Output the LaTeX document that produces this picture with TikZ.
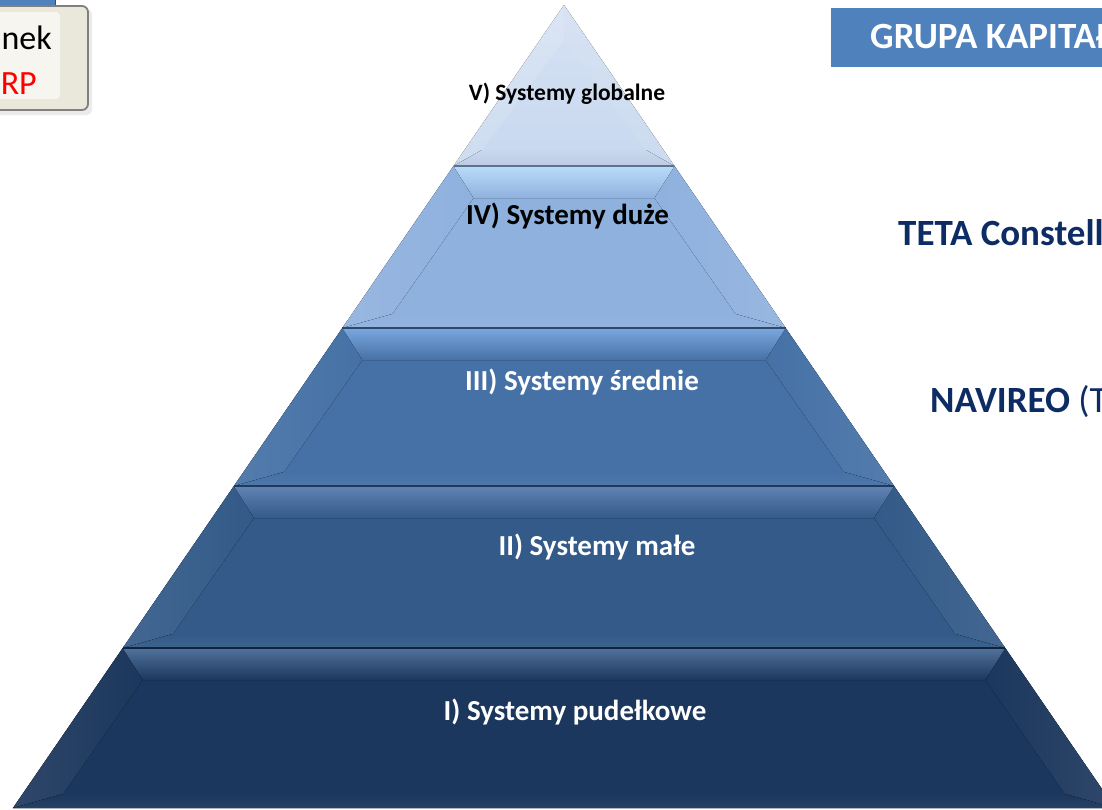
\documentclass[tikz,border=0pt]{standalone}
\usepackage{fontspec}
\setmainfont{Carlito}
\definecolor{lvA}{HTML}{C8D8EF}
\definecolor{lvB}{HTML}{8FB1DE}
\definecolor{hvB}{HTML}{B9DCF9}
\definecolor{lvC}{HTML}{4571A6}
\definecolor{hvC}{HTML}{7AA7DE}
\definecolor{lvD}{HTML}{335A88}
\definecolor{hvD}{HTML}{6083B3}
\definecolor{lvE}{HTML}{1C375D}
\definecolor{hvE}{HTML}{50729C}
\definecolor{navy}{HTML}{0E2C64}
\definecolor{hdrblue}{HTML}{4F81BD}
\definecolor{beige}{HTML}{EAE8DA}
\newcommand\pyrlayer[4]{%
  \pgfmathsetmacro\lt{564-0.6862*(#1-5)}%
  \pgfmathsetmacro\rt{564+0.6862*(#1-5)}%
  \pgfmathsetmacro\lb{564-0.6862*(#2-5)}%
  \pgfmathsetmacro\rb{564+0.6862*(#2-5)}%
  \pgfmathsetmacro\ilt{\lt+20}%
  \pgfmathsetmacro\irt{\rt-20}%
  \pgfmathsetmacro\ilb{\lb+50}%
  \pgfmathsetmacro\irb{\rb-50}%
  \pgfmathsetmacro\it{#1+32}%
  \pgfmathsetmacro\ib{#2-14}%
  \fill[#3] (\lt,#1) -- (\rt,#1) -- (\rb,#2) -- (\lb,#2) -- cycle;
  \fill[left color=#3!92!white, right color=#3] (\lt,#1) -- (\ilt,\it) -- (\ilb,\ib) -- (\lb,#2) -- cycle;
  \fill[left color=#3, right color=#3!92!white] (\rt,#1) -- (\irt,\it) -- (\irb,\ib) -- (\rb,#2) -- cycle;
  \fill[top color=#3, bottom color=#3!95!white] (\lb,#2) -- (\ilb,\ib) -- (\irb,\ib) -- (\rb,#2) -- cycle;
  \fill[top color=#4, bottom color=#3] (\lt,#1) -- (\rt,#1) -- (\irt,\it) -- (\ilt,\it) -- cycle;
  \draw[#3!65!black, line width=1.2pt] (\lt,#1) -- (\rt,#1);
}
\tikzset{
  darklabel/.style={anchor=base, font=\bfseries\fontsize{29}{32}\selectfont, text=black, inner sep=0pt},
  lightlabel/.style={anchor=base, font=\bfseries\fontsize{29}{32}\selectfont, text=white, inner sep=0pt},
  navytext/.style={anchor=base west, font=\fontsize{37}{40}\selectfont, text=navy, inner sep=0pt}
}
\begin{document}
\begin{tikzpicture}[x=1pt, y=-1pt]
\clip (0,0) rectangle (1102,809);
\fill[white] (0,0) rectangle (1102,809);
% top-left box
\fill[hdrblue] (-10,-5) rectangle (55,6);
\draw[hdrblue!60!black, line width=0.8pt] (-10,6) -- (55,6) -- (55,-5);
\fill[black!8, rounded corners=5pt] (-20,9) rectangle (92,115);
\draw[black!50, fill=beige, line width=1.8pt, rounded corners=6pt] (-20,6) rectangle (88,110);
\fill[white!85!beige, opacity=0.7, rounded corners=4pt] (-20,12) rectangle (60,99);
\node[anchor=base east, font=\fontsize{34}{38}\selectfont, text=black, inner sep=0pt] (tlA) at (52,49) {nek};
\node[anchor=base east, font=\fontsize{34}{38}\selectfont, text=red, inner sep=0pt] (tlB) at (37,94) {RP};
% pyramid top triangle
\fill[top color=lvA!75!white, bottom color=lvA] (564,5) -- (674.5,166) -- (453.5,166) -- cycle;
\fill[white, opacity=0.12] (564,5) -- (453.5,166) -- (482,150) -- (564,40) -- cycle;
\fill[white, opacity=0.06] (564,5) -- (564,40) -- (646,150) -- (674.5,166) -- cycle;
\fill[top color=lvA, bottom color=lvA!94!black] (453.5,166) -- (482,150) -- (646,150) -- (674.5,166) -- cycle;
\pyrlayer{166}{328}{lvB}{hvB}
\pyrlayer{328}{486}{lvC}{hvC}
\pyrlayer{486}{648}{lvD}{hvD}
\pyrlayer{648}{808}{lvE}{hvE}
% labels
\node[darklabel, font=\bfseries\fontsize{23.5}{26}\selectfont] (l5) at (567,100) {V) Systemy globalne};
\node[darklabel] (l4) at (567.5,224) {IV) Systemy duże};
\node[lightlabel] (l3) at (582,390) {III) Systemy średnie};
\node[lightlabel] (l2) at (597,555) {II) Systemy małe};
\node[lightlabel] (l1) at (575,720) {I) Systemy pudełkowe};
% right side
\fill[hdrblue] (831,8) rectangle (1110,67);
\node[anchor=base west, font=\bfseries\fontsize{37}{40}\selectfont, text=white, inner sep=0pt] (grp) at (870,48) {GRUPA KAPITAŁ};
\node[navytext, font=\bfseries\fontsize{37}{40}\selectfont] (teta) at (898,245) {TETA Constell};
\node[navytext] (navi) at (930,412) {\textbf{NAVIREO} (T};
\end{tikzpicture}
\end{document}
